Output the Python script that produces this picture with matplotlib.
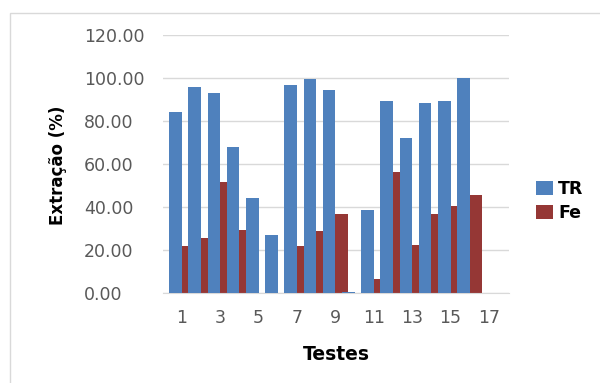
import numpy as np
import matplotlib
matplotlib.use('Agg')
import matplotlib.pyplot as plt
from matplotlib.patches import Rectangle

# Dados
testes = np.arange(1, 18)
tr = [84.4, 95.9, 93.1, 68.1, 44.3, 27.0, 96.7, 99.5, 94.4, 0.3,
      38.7, 89.2, 72.1, 88.3, 89.5, 100.0, 0.0]
fe = [21.8, 25.5, 51.8, 29.2, 0.0, 0.0, 21.5, 28.6, 36.7, 0.0,
      6.5, 56.3, 22.4, 36.7, 40.6, 45.5, 0.0]
xticks = list(range(1, 18, 2))

plt.rcParams['font.family'] = ['DejaVu Sans']

fig = plt.figure(figsize=(6, 3.83), dpi=100)
ax = fig.add_axes([0.272, 0.236, 0.576, 0.672])

# moldura cinza clara em volta do gráfico
fig.patches.append(Rectangle((10 / 600, -0.05), 1.0, 1 - 13 / 383 + 0.05,
                             transform=fig.transFigure, fill=False,
                             edgecolor='#D9D9D9', linewidth=1.0))

w = 0.656
ax.bar(testes + w / 2, fe, width=w, color='#953735', label='Fe', zorder=2)
ax.bar(testes - w / 2, tr, width=w, color='#4F81BD', label='TR', zorder=3)

ax.set_ylim(0, 120)
ax.set_xlim(0.03, 18.03)
ax.set_yticks(np.arange(0, 121, 20))
ax.set_yticklabels([f'{v:.2f}' for v in range(0, 121, 20)])
ax.set_xticks(xticks)
ax.tick_params(axis='both', length=0, labelsize=12.5, labelcolor='#595959')
ax.tick_params(axis='y', pad=57)
ax.tick_params(axis='x', pad=12)
for lab in ax.get_yticklabels():
    lab.set_horizontalalignment('left')

ax.grid(axis='y', color='#D9D9D9', linewidth=1.0, zorder=0)
ax.set_axisbelow(True)
for s in ['top', 'right', 'left']:
    ax.spines[s].set_visible(False)
ax.spines['bottom'].set_color('#D9D9D9')

ax.set_xlabel('Testes', fontsize=13.5, fontweight='bold', va='top')
ax.xaxis.set_label_coords(0.5, -0.205)
ax.set_ylabel('Extração (%)', fontsize=12, fontweight='bold')
ax.yaxis.set_label_coords(-0.279, 0.496)

handles, labels = ax.get_legend_handles_labels()
leg = fig.legend(handles[::-1], labels[::-1], loc='upper left',
                 bbox_to_anchor=(0.893, 0.531), frameon=False,
                 prop={'weight': 'bold', 'size': 12.5}, borderpad=0,
                 borderaxespad=0, handlelength=1.0, handleheight=0.85,
                 handletextpad=0.3, labelspacing=0.35)

fig.savefig('out.png', dpi=100)
